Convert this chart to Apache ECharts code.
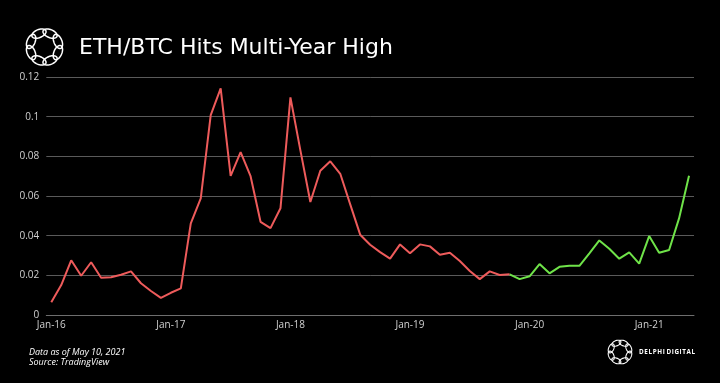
<!DOCTYPE html>
<html>
<head>
<meta charset="utf-8">
<script src="https://cdn.jsdelivr.net/npm/echarts@6/dist/echarts.min.js"></script>
<style>
html,body{margin:0;padding:0;background:#000;}
#chart{width:720px;height:383px;}
</style>
</head>
<body>
<div id="chart"></div>
<script>
// ---- data ----
const years = ['16','17','18','19','20','21'];
const monthNames = ['Jan','Feb','Mar','Apr','May','Jun','Jul','Aug','Sep','Oct','Nov','Dec'];
const categories = [];
years.forEach(y => monthNames.forEach(m => categories.push(m + '-' + y)));
categories.length = 65; // Jan-16 .. May-21

const redValues = [
  0.0064, 0.0151, 0.0276, 0.0198, 0.0266, 0.0188, 0.0190, 0.0203, 0.0220, 0.0160, 0.0121, 0.0086,
  0.0112, 0.0134, 0.0462, 0.0588, 0.1008, 0.1143, 0.0702, 0.0821, 0.0700, 0.0470, 0.0438, 0.0538,
  0.1097, 0.0830, 0.0570, 0.0727, 0.0775, 0.0712, 0.0558, 0.0405, 0.0354, 0.0317, 0.0284, 0.0356,
  0.0311, 0.0356, 0.0346, 0.0304, 0.0314, 0.0272, 0.0222, 0.0181, 0.0220, 0.0202, 0.0205
];
const greenValues = [
  0.0205, 0.0181, 0.0195, 0.0257, 0.0210, 0.0243, 0.0248, 0.0248, 0.0311, 0.0376, 0.0334, 0.0284,
  0.0316, 0.0259, 0.0398, 0.0314, 0.0328, 0.0487, 0.0702
];
const greenStart = 46;
const yTicks = {min: 0, max: 0.12, interval: 0.02};

const redSeries = categories.map((c, i) => i < redValues.length ? redValues[i] : null);
const greenSeries = categories.map((c, i) => i >= greenStart ? greenValues[i - greenStart] : null);

// ---- logo helper (decorative ring of 8 interlaced loops) ----
function logo(cx, cy, ringR, tanR, radR, lw) {
  const out = [];
  for (let k = 0; k < 8; k++) {
    const a = k * Math.PI / 4 + Math.PI / 8;
    const ex = cx + ringR * Math.cos(a), ey = cy + ringR * Math.sin(a);
    const pts = [];
    for (let t = 0; t < 40; t++) {
      const th = t / 40 * Math.PI * 2;
      const u = tanR * Math.cos(th), v = radR * Math.sin(th);
      pts.push([ex - u * Math.sin(a) + v * Math.cos(a), ey + u * Math.cos(a) + v * Math.sin(a)]);
    }
    out.push({
      type: 'polygon', silent: true,
      shape: {points: pts},
      style: {fill: 'none', stroke: '#ffffff', lineWidth: lw}
    });
  }
  return out;
}

const chart = echarts.init(document.getElementById('chart'), null, {renderer: 'canvas'});
const fontFam = '"Open Sans", "Noto Sans", sans-serif';
const hs = '\u200A';
chart.setOption({
  backgroundColor: '#000000',
  animation: false,
  title: {
    text: 'ETH/BTC Hits Multi-Year High',
    left: 74, top: 32,
    textStyle: {color: '#ffffff', fontSize: 22, fontWeight: 'normal', fontFamily: '"DejaVu Sans", sans-serif'}
  },
  grid: {left: 46.3, right: 26, top: 77, bottom: 68, containLabel: false},
  xAxis: {
    type: 'category',
    data: categories,
    boundaryGap: true,
    axisLine: {lineStyle: {color: '#6e6e6e', width: 1}},
    axisTick: {interval: 11, length: 4, lineStyle: {color: '#6e6e6e'}},
    axisLabel: {interval: 11, color: '#d0d0d0', fontSize: 10, fontFamily: fontFam, margin: 5},
    splitLine: {show: false}
  },
  yAxis: {
    type: 'value',
    min: yTicks.min, max: yTicks.max, interval: yTicks.interval,
    axisLine: {show: false},
    axisTick: {show: false},
    axisLabel: {color: '#d0d0d0', fontSize: 10, fontFamily: fontFam, margin: 7,
      formatter: v => (Math.round(v * 100) / 100).toString()},
    splitLine: {lineStyle: {color: '#5a5a5a', width: 1}}
  },
  series: [
    {type: 'line', data: redSeries, symbol: 'none', connectNulls: false,
     lineStyle: {color: '#ee5b5b', width: 2}, itemStyle: {color: '#ee5b5b'}},
    {type: 'line', data: greenSeries, symbol: 'none', connectNulls: false,
     lineStyle: {color: '#6fe349', width: 2}, itemStyle: {color: '#6fe349'}}
  ],
  graphic: [
    ...logo(44.5, 47, 14.5, 7.5, 4, 1.5),
    ...logo(620, 352, 9.5, 4.8, 2.6, 1.1),
    {type: 'text', left: 639, top: 349,
     style: {text: 'DELPHI'.split('').join(hs) + ' ' + 'DIGITAL'.split('').join(hs), fill: '#ffffff', fontSize: 6.3, fontFamily: fontFam, fontWeight: 'bold'}},
    {type: 'text', left: 29, top: 348,
     style: {text: 'Data as of May 10, 2021', fill: '#ffffff', fontSize: 9, fontStyle: 'italic', fontFamily: fontFam}},
    {type: 'text', left: 29, top: 358,
     style: {text: 'Source: TradingView', fill: '#ffffff', fontSize: 9, fontStyle: 'italic', fontFamily: fontFam}}
  ]
});
</script>
</body>
</html>
